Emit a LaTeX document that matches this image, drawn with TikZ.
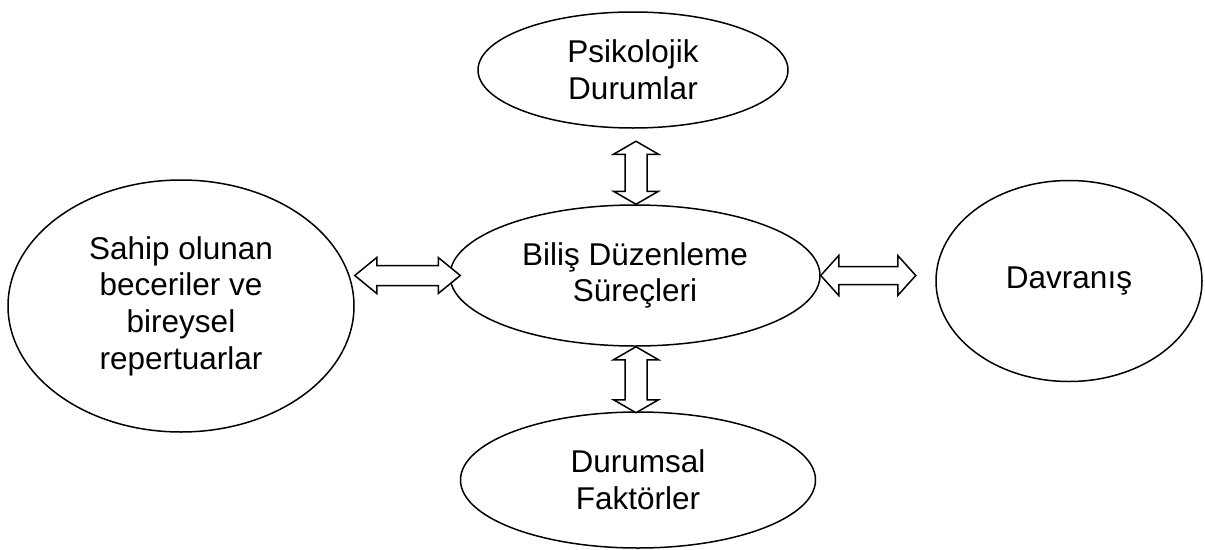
\documentclass[tikz,border=0pt]{standalone}
\usepackage{fontspec}
\setmainfont{Liberation Sans}
\usetikzlibrary{shapes.geometric,calc}

\tikzset{
  bubble/.style={draw, ellipse, line width=1.5pt, inner sep=0pt, align=center,
    font=\fontsize{31.5}{36.7}\selectfont},
  blockarrow/.style={draw, line width=1.5pt, fill=white, line join=miter},
}

% two-headed block arrow: #1,#2 tips, #3 head length, #4 head half width, #5 shaft half width
\newcommand{\twoway}[5]{%
  \draw[blockarrow] (#1)
    -- ($(#1)!#3!(#2)!#4!90:(#2)$) -- ($(#1)!#3!(#2)!#5!90:(#2)$)
    -- ($(#2)!#3!(#1)!#5!-90:(#1)$) -- ($(#2)!#3!(#1)!#4!-90:(#1)$)
    -- (#2)
    -- ($(#2)!#3!(#1)!#4!90:(#1)$) -- ($(#2)!#3!(#1)!#5!90:(#1)$)
    -- ($(#1)!#3!(#2)!#5!-90:(#2)$) -- ($(#1)!#3!(#2)!#4!-90:(#2)$)
    -- cycle;}

\begin{document}
\begin{tikzpicture}[x=1pt, y=1pt]
  \useasboundingbox (0,0) rectangle (1205,-549);

  % Kavramlar
  \node[bubble, minimum width=310, minimum height=116] (psiko) at (633,-70) {Psikolojik\\Durumlar};
  \node[bubble, minimum width=370, minimum height=141] (bilis) at (635,-275.5) {Biliş Düzenleme\\Süreçleri};
  \node[bubble, minimum width=346, minimum height=252] (beceri) at (181,-306) {Sahip olunan\\beceriler ve\\bireysel\\repertuarlar};
  \node[bubble, minimum width=266, minimum height=201] (davr) at (1069,-281) {Davranış};
  \node[bubble, minimum width=355, minimum height=136] (durum) at (638,-480) {Durumsal\\Faktörler};

  % Uçlar
  \coordinate (u1) at ($(bilis.north)+(1,63)$);
  \coordinate (u2) at ($(bilis.north)+(1,0)$);
  \coordinate (a1) at ($(bilis.south)+(1,0)$);
  \coordinate (a2) at ($(bilis.south)+(1,-66)$);
  \coordinate (s1) at (beceri.east |- bilis.west);
  \coordinate (s2) at ($(bilis.west)+(11,0)$);
  \coordinate (r1) at (bilis.east);
  \coordinate (r2) at ($(bilis.east)+(95,0)$);

  % Çift yönlü oklar
  \twoway{u1}{u2}{13pt}{22.5pt}{11pt}
  \twoway{a1}{a2}{13pt}{22.5pt}{11pt}
  \twoway{s1}{s2}{22pt}{18pt}{10pt}
  \twoway{r1}{r2}{18pt}{20pt}{9pt}

\end{tikzpicture}
\end{document}
